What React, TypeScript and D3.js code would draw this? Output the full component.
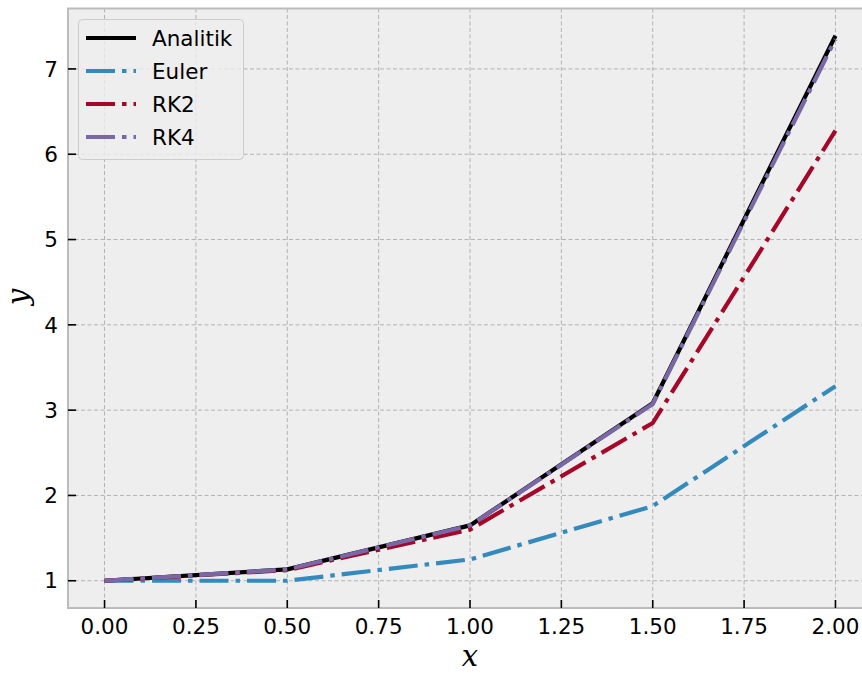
import * as d3 from "d3";
import { useEffect, useRef } from "react";

const xs = [0, 0.5, 1.0, 1.5, 2.0];
const analitik = [1, 1.1331, 1.6487, 3.0802, 7.3891];
const euler = [1, 1, 1.25, 1.875, 3.2813];
const rk2 = [1, 1.125, 1.5996, 2.8493, 6.2771];
const rk4 = [1, 1.1331, 1.6481, 3.0725, 7.35];

const xTicks = [0, 0.25, 0.5, 0.75, 1.0, 1.25, 1.5, 1.75, 2.0];
const yTicks = [1, 2, 3, 4, 5, 6, 7];

const seriesNames = ["Analitik", "Euler", "RK2", "RK4"];
const seriesColors = ["#000000", "#348ABD", "#A60628", "#7A68A6"];

export default function App() {
    const ref = useRef<SVGSVGElement>(null);

    useEffect(() => {
        const svg = d3.select(ref.current);
        svg.selectAll("*").remove();

        const width = 862;
        const height = 677;
        const plot = { left: 68, right: 872, top: 8.5, bottom: 608 };
        const font = "'DejaVu Sans', sans-serif";

        svg.attr("width", width).attr("height", height);

        const x = d3.scaleLinear().domain([-0.1, 2.1]).range([plot.left, plot.right]);
        const y = d3.scaleLinear().domain([0.6805, 7.7085]).range([plot.bottom, plot.top]);

        // background
        svg.append("rect")
            .attr("x", plot.left).attr("y", plot.top)
            .attr("width", plot.right - plot.left).attr("height", plot.bottom - plot.top)
            .attr("fill", "#eeeeee");

        // grid
        const grid = svg.append("g")
            .attr("stroke", "#b2b2b2").attr("stroke-width", 1)
            .attr("stroke-dasharray", "4,2.5");
        grid.selectAll("line.gx").data(xTicks).join("line")
            .attr("x1", d => x(d)).attr("x2", d => x(d))
            .attr("y1", plot.top).attr("y2", plot.bottom);
        grid.selectAll("line.gy").data(yTicks).join("line")
            .attr("class", "gy")
            .attr("x1", plot.left).attr("x2", plot.right)
            .attr("y1", d => y(d)).attr("y2", d => y(d));

        svg.append("clipPath").attr("id", "plotclip")
            .append("rect")
            .attr("x", plot.left).attr("y", plot.top)
            .attr("width", plot.right - plot.left).attr("height", plot.bottom - plot.top);

        // lines
        const allSeries = [analitik, euler, rk2, rk4];
        const line = d3.line<number>().x((_, i) => x(xs[i])).y(d => y(d));
        const dash = "29,7,4.5,7";
        svg.append("g").attr("clip-path", "url(#plotclip)")
            .selectAll("path")
            .data(allSeries)
            .join("path")
            .attr("d", d => line(d))
            .attr("fill", "none")
            .attr("stroke", (_, i) => seriesColors[i])
            .attr("stroke-width", 4.2)
            .attr("stroke-linejoin", "round")
            .attr("stroke-dasharray", (_, i) => (i === 0 ? null : dash));

        // spines
        svg.append("rect")
            .attr("x", plot.left).attr("y", plot.top)
            .attr("width", plot.right - plot.left).attr("height", plot.bottom - plot.top)
            .attr("fill", "none").attr("stroke", "#bcbcbc").attr("stroke-width", 2);

        // x ticks (inward) and labels
        const xAxis = svg.append("g");
        xAxis.selectAll("line").data(xTicks).join("line")
            .attr("x1", d => x(d)).attr("x2", d => x(d))
            .attr("y1", plot.bottom).attr("y2", plot.bottom - 8)
            .attr("stroke", "#000").attr("stroke-width", 1.6);
        xAxis.selectAll("text").data(xTicks).join("text")
            .attr("x", d => x(d)).attr("y", 634)
            .attr("text-anchor", "middle")
            .attr("font-family", font).attr("font-size", 21.5)
            .attr("fill", "#000")
            .text(d => d3.format(".2f")(d));

        // y ticks (inward) and labels
        const yAxis = svg.append("g");
        yAxis.selectAll("line").data(yTicks).join("line")
            .attr("x1", plot.left).attr("x2", plot.left + 8)
            .attr("y1", d => y(d)).attr("y2", d => y(d))
            .attr("stroke", "#000").attr("stroke-width", 1.6);
        yAxis.selectAll("text").data(yTicks).join("text")
            .attr("x", 58).attr("y", d => y(d))
            .attr("dy", "0.36em")
            .attr("text-anchor", "end")
            .attr("font-family", font).attr("font-size", 21.5)
            .attr("fill", "#000")
            .text(d => String(d));

        // axis labels
        svg.append("text")
            .attr("x", 470).attr("y", 666)
            .attr("text-anchor", "middle")
            .attr("font-family", "'DejaVu Serif', serif").attr("font-style", "italic")
            .attr("font-size", 29)
            .text("x");
        svg.append("text")
            .attr("transform", "translate(28,297) rotate(-90)")
            .attr("text-anchor", "middle")
            .attr("font-family", "'DejaVu Serif', serif").attr("font-style", "italic")
            .attr("font-size", 29)
            .text("y");

        // legend
        const legend = svg.append("g");
        legend.append("rect")
            .attr("x", 78.5).attr("y", 19.5).attr("width", 165).attr("height", 140)
            .attr("rx", 4)
            .attr("fill", "#eeeeee").attr("fill-opacity", 0.8)
            .attr("stroke", "#cccccc").attr("stroke-width", 1);
        const entries = legend.selectAll("g").data(seriesNames).join("g")
            .attr("transform", (_, i) => `translate(0,${38 + i * 33})`);
        entries.append("line")
            .attr("x1", 86).attr("x2", 136).attr("y1", 0).attr("y2", 0)
            .attr("stroke", (_, i) => seriesColors[i])
            .attr("stroke-width", 4.2)
            .attr("stroke-dasharray", (_, i) => (i === 0 ? null : dash));
        entries.append("text")
            .attr("x", 152).attr("y", 0).attr("dy", "0.36em")
            .attr("font-family", font).attr("font-size", 21.5)
            .attr("fill", "#000")
            .text(d => d);
    }, []);

    return (
        <div style={{ position: "absolute", left: 0, top: 0 }}>
            <svg ref={ref}></svg>
        </div>
    );
}
